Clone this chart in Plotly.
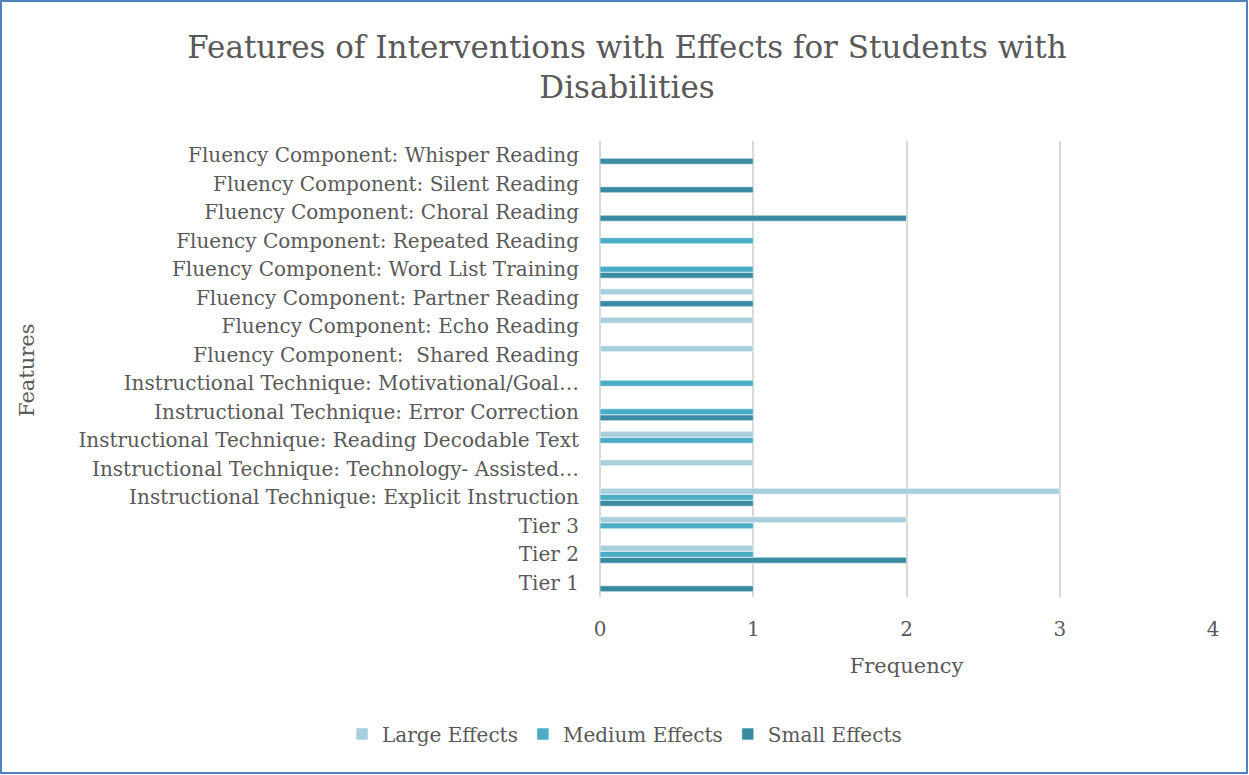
import plotly.graph_objects as go

# Features listed top to bottom as they appear on the chart
features = [
    "Fluency Component: Whisper Reading",
    "Fluency Component: Silent Reading",
    "Fluency Component: Choral Reading",
    "Fluency Component: Repeated Reading",
    "Fluency Component: Word List Training",
    "Fluency Component: Partner Reading",
    "Fluency Component: Echo Reading",
    "Fluency Component:\u00a0 Shared Reading",
    "Instructional Technique: Motivational/Goal…",
    "Instructional Technique: Error Correction",
    "Instructional Technique: Reading Decodable Text",
    "Instructional Technique: Technology- Assisted…",
    "Instructional Technique: Explicit Instruction",
    "Tier 3",
    "Tier 2",
    "Tier 1",
]

# Frequencies per feature (None = no studies)
large_effects = [None, None, None, None, None, 1, 1, 1, None, None, 1, 1, 3, 2, 1, None]
medium_effects = [None, None, None, 1, 1, None, None, None, 1, 1, 1, None, 1, 1, 1, None]
small_effects = [1, 1, 2, None, 1, 1, None, None, None, 1, None, None, 1, None, 2, 1]

x_ticks = [0, 1, 2, 3, 4]

FONT = "DejaVu Serif"
TEXT = "#595959"

series = [
    ("Small Effects", small_effects, "#3B8CA3", 3),
    ("Medium Effects", medium_effects, "#4BACC6", 2),
    ("Large Effects", large_effects, "#A9CFDC", 1),
]

fig = go.Figure()
for name, vals, color, rank in series:
    fig.add_trace(go.Bar(
        name=name,
        y=features,
        x=vals,
        orientation="h",
        marker=dict(color=color, line=dict(color="rgba(255,255,255,0.55)", width=1)),
        legendrank=rank,
    ))

W, H = 1249, 775
L, R, T, B = 600, 36, 141, 178
pw, ph = W - L - R, H - T - B

def px_x(px):
    return (px - L) / pw

def px_y(py):
    return (H - B - py) / ph

fig.update_layout(
    width=W, height=H,
    margin=dict(l=L, r=R, t=T, b=B),
    paper_bgcolor="white",
    plot_bgcolor="white",
    barmode="group",
    bargap=0.37,
    bargroupgap=0,
    font=dict(family=FONT, color=TEXT, size=20),
    title=dict(
        text="Features of Interventions with Effects for Students with<br>Disabilities",
        x=0.502, xanchor="center", xref="container",
        y=1 - 58 / H, yanchor="middle", yref="container",
        font=dict(family=FONT, size=31, color=TEXT),
    ),
    xaxis=dict(
        range=[0, 4],
        tickvals=x_ticks,
        ticktext=[str(t) for t in x_ticks],
        showgrid=True, gridcolor="#D9D9D9", gridwidth=2,
        zeroline=True, zerolinecolor="#D9D9D9", zerolinewidth=2,
        showline=False,
        ticks="", ticklabelstandoff=18,
        tickfont=dict(size=20, color=TEXT),
        title=dict(text="Frequency", font=dict(size=21, color=TEXT), standoff=18),
    ),
    yaxis=dict(
        categoryorder="array",
        categoryarray=features[::-1],
        showgrid=False, zeroline=False, showline=False,
        ticks="", ticklabelstandoff=20,
        tickfont=dict(size=20, color=TEXT),
        title=dict(text=""),
    ),
    legend=dict(
        orientation="h",
        x=0.5, xanchor="center", xref="container",
        y=1 - 734 / H, yanchor="middle", yref="container",
        font=dict(size=20, color=TEXT),
        itemwidth=30,
        tracegroupgap=0,
    ),
    showlegend=True,
)

# Y-axis title drawn as a rotated annotation at the far left
fig.add_annotation(
    text="Features", textangle=-90,
    xref="paper", yref="paper",
    x=px_x(27), y=px_y(370),
    showarrow=False, xanchor="center", yanchor="middle",
    font=dict(family=FONT, size=21, color=TEXT),
)

# Chart frame
fig.add_shape(
    type="rect", xref="paper", yref="paper",
    x0=px_x(1), x1=px_x(W - 2), y0=px_y(H - 2), y1=px_y(1),
    line=dict(color="#4F81BD", width=2), fillcolor="rgba(0,0,0,0)",
    layer="above",
)

fig.write_html("out.html")
